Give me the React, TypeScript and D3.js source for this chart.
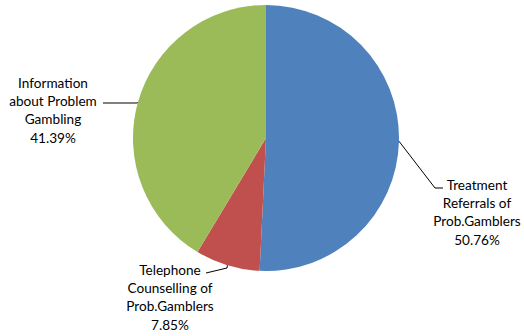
import React from "react";
import * as d3 from "d3";

const categories = ["Treatment Referrals of Prob.Gamblers", "Telephone Counselling of Prob.Gamblers", "Information about Problem Gambling"];
const values = [50.76, 7.85, 41.39];
const colors = ["#4F81BD", "#C0504D", "#9BBB59"];
const labelLines = [
  ["Treatment", "Referrals of", "Prob.Gamblers", "50.76%"],
  ["Telephone", "Counselling of", "Prob.Gamblers", "7.85%"],
  ["Information", "about Problem", "Gambling", "41.39%"],
];
const labelPos = [
  { x: 477, y: 190, lead: [[435, 188], [443, 188]] },
  { x: 170, y: 275, lead: [[227, 268], [206, 273]] },
  { x: 53, y: 88, lead: [[137, 103], [103, 103]] },
];

export default function App() {
  const W = 524, H = 336;
  const cx = 266, cy = 138, r = 133;
  const pie = d3.pie<number>().sort(null).value((d) => d)(values);
  const arc = d3.arc<d3.PieArcDatum<number>>().innerRadius(0).outerRadius(r);
  return (
    <svg width={W} height={H} style={{ position: "absolute", left: 0, top: 0, background: "#fff" }}>
      <g transform={`translate(${cx},${cy})`}>
        {pie.map((p, i) => (
          <path key={categories[i]} d={arc(p) || ""} fill={colors[i]} />
        ))}
      </g>
      {pie.map((p, i) => {
        const lp = labelPos[i];
        const a = (p.startAngle + p.endAngle) / 2;
        const sx = cx + Math.sin(a) * r;
        const sy = cy - Math.cos(a) * r;
        const pts: [number, number][] = [[sx, sy], lp.lead[0] as [number, number], lp.lead[1] as [number, number]];
        const line = d3.line()(pts) || "";
        return (
          <g key={"l" + i}>
            <path d={line} fill="none" stroke="#000" strokeWidth={1} />
            {labelLines[i].map((t, j) => (
              <text key={j} x={lp.x} y={lp.y + j * 18.2} textAnchor="middle" fontFamily="Lato, 'Open Sans', sans-serif" fontSize={13.6} fill="#000">
                {t}
              </text>
            ))}
          </g>
        );
      })}
    </svg>
  );
}
